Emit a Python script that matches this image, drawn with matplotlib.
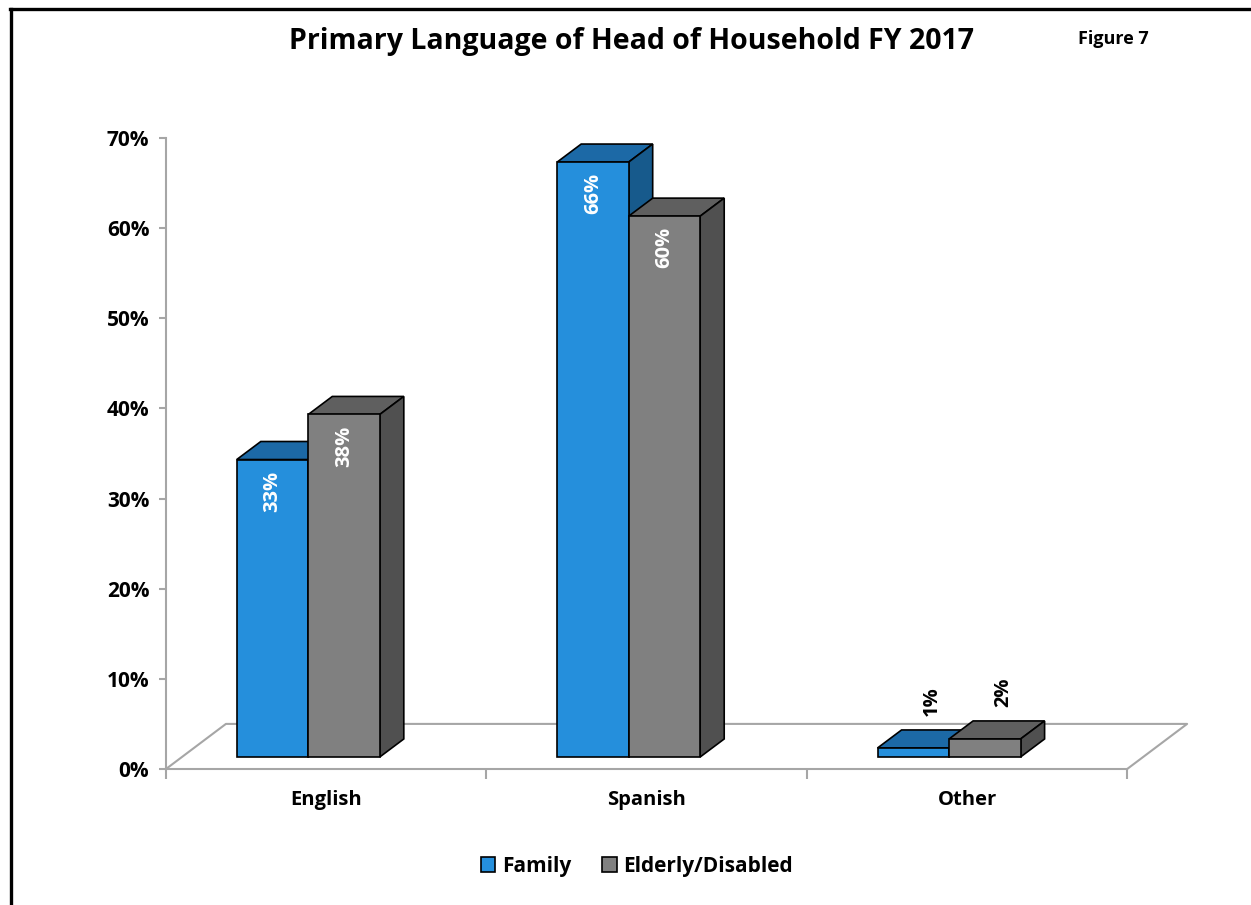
import matplotlib.pyplot as plt
from matplotlib.lines import Line2D
from matplotlib.patches import Patch, Polygon

categories = ['English', 'Spanish', 'Other']
family = [33, 66, 1]
elderly = [38, 60, 2]
series_names = ['Family', 'Elderly/Disabled']
yticks = [0, 10, 20, 30, 40, 50, 60, 70]

# face colours: front, top, side
blue_faces = ('#258fdc', '#1c69a6', '#175a8c')
gray_faces = ('#808080', '#5f5f5f', '#505050')

plt.rcParams['font.family'] = ['Open Sans', 'DejaVu Sans']
plt.rcParams['font.weight'] = 'bold'

fig = plt.figure(figsize=(12.51, 9.05), dpi=100)
ax = fig.add_axes([0.1327, 0.1503, 0.817, 0.6972])

bar_w = 0.2232      # bar width in category units
ddx, ddy = 0.075, 2.0    # bar depth offset
fdx, fdy = 0.187, 5.0    # floor depth offset
base = 1.33
axis_gray = '#a6a6a6'


def draw_bar(x, value, faces):
    front, top_c, side_c = faces
    top = base + value
    ax.add_patch(Polygon([(x, top), (x + bar_w, top), (x + bar_w + ddx, top + ddy),
                          (x + ddx, top + ddy)], closed=True, fc=top_c, ec='black',
                         lw=1.2, zorder=3, clip_on=False))
    ax.add_patch(Polygon([(x + bar_w, base), (x + bar_w + ddx, base + ddy),
                          (x + bar_w + ddx, top + ddy), (x + bar_w, top)], closed=True,
                         fc=side_c, ec='black', lw=1.2, zorder=3, clip_on=False))
    ax.add_patch(Polygon([(x, base), (x + bar_w, base), (x + bar_w, top), (x, top)],
                         closed=True, fc=front, ec='black', lw=1.2, zorder=3, clip_on=False))


def label_bar(x, value):
    cx = x + bar_w / 2
    if value >= 10:
        ax.annotate(f'{value}%', (cx, base + value), xytext=(0, -8),
                    textcoords='offset points', rotation=90, ha='center', va='top',
                    color='white', fontsize=14.5, fontweight='bold', zorder=5)
    else:
        ax.annotate(f'{value}%', (cx + ddx * 0.75, base + value + ddy), xytext=(0, 10),
                    textcoords='offset points', rotation=90, ha='center', va='bottom',
                    color='black', fontsize=14.5, fontweight='bold', zorder=5)


# floor outline
n = len(categories)
ax.plot([0, fdx, n + fdx, n], [0, fdy, fdy, 0], color=axis_gray, lw=1.5,
        zorder=1, clip_on=False)

for i, (f, e) in enumerate(zip(family, elderly)):
    center = i + 0.444
    draw_bar(center - bar_w, f, blue_faces)
    draw_bar(center, e, gray_faces)
    label_bar(center - bar_w, f)
    label_bar(center, e)

ax.set_xlim(0, 3.19)
ax.set_ylim(0, 70)
for s in ['top', 'right']:
    ax.spines[s].set_visible(False)
ax.spines['left'].set_color(axis_gray)
ax.spines['left'].set_linewidth(1.5)
ax.spines['bottom'].set_color(axis_gray)
ax.spines['bottom'].set_linewidth(1.5)
ax.spines['bottom'].set_bounds(0, n)

ax.set_yticks(yticks)
ax.set_yticklabels([f'{t}%' for t in yticks], fontsize=15, fontweight='bold')
ax.tick_params(axis='y', length=5, color=axis_gray, width=1.5, pad=7)

ax.set_xticks(range(n + 1))
ax.set_xticklabels([])
ax.tick_params(axis='x', which='major', length=7, color=axis_gray, width=1.5)
ax.set_xticks([i + 0.5 for i in range(n)], minor=True)
ax.set_xticklabels(categories, minor=True, fontsize=14.5, fontweight='bold')
ax.tick_params(axis='x', which='minor', length=0, pad=15)

fig.text(0.505, 0.954, 'Primary Language of Head of Household FY 2017', ha='center',
         va='center', fontsize=20.5, fontweight='bold')
fig.text(0.890, 0.957, 'Figure 7', ha='center', va='center', fontsize=13,
         fontweight='bold')

handles = [Patch(fc=blue_faces[0], ec='black', lw=1.2),
           Patch(fc=gray_faces[0], ec='black', lw=1.2)]
fig.legend(handles, series_names, loc='center', bbox_to_anchor=(0.509, 0.043), ncol=2,
           frameon=False, handlelength=0.7, handleheight=0.7,
           handletextpad=0.3, columnspacing=1.5, prop={'weight': 'bold', 'size': 15})

# frame along top and left
fig.add_artist(Line2D([0.008, 1.0], [0.990, 0.990], color='black', lw=2.4,
                      transform=fig.transFigure))
fig.add_artist(Line2D([0.0088, 0.0088], [0.0, 0.990], color='black', lw=2.4,
                      transform=fig.transFigure))

fig.savefig('out.png', dpi=100)
